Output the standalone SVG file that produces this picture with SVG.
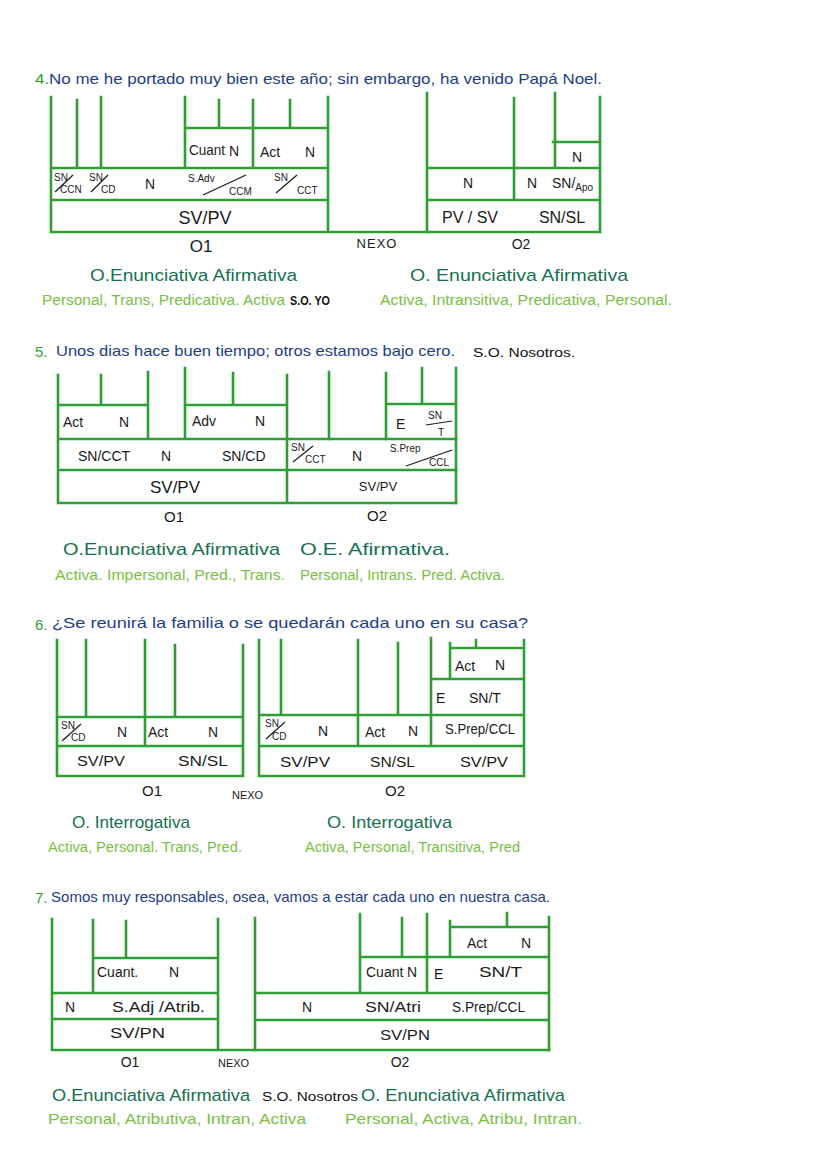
<svg xmlns="http://www.w3.org/2000/svg" width="828" height="1171" viewBox="0 0 828 1171">
<style>
.bg{fill:#ffffff}
.ln{stroke:#2e9f35;stroke-width:2.6;fill:none;stroke-linecap:square}
.fb{stroke:#1a1a1a;stroke-width:1.2;fill:none}
text{font-family:"Liberation Sans",Arial,sans-serif;fill:#1a1a1a}
.ti{fill:#1d3c8c;font-size:15px}
.num{fill:#2e9f35}
.lb{font-size:14px}
.sm{font-size:10px}
.dg{fill:#14704f;font-size:17px}
.lg{fill:#79c043;font-size:14px}
.so{fill:#111;font-size:13px}
.mid{text-anchor:middle}
</style>
<rect class="bg" x="0" y="0" width="828" height="1171"/>

<!-- ============ SENTENCE 4 ============ -->
<g id="s4">
  <g id="s4-title">
    <text class="ti" x="35" y="84" textLength="567" lengthAdjust="spacingAndGlyphs"><tspan class="num">4.</tspan>No me he portado muy bien este año; sin embargo, ha venido Papá Noel.</text>
  </g>
  <g id="s4-o1">
    <path class="ln" d="M51 97V232 M77 100V168 M101 97V168 M185 97V168 M219 100V128 M253 100V168 M290 100V128 M328 97V232 M185 128H328 M51 168H328 M51 200H328 M51 232H600"/>
    <text class="lb" x="189" y="155" font-size="12" textLength="36" lengthAdjust="spacingAndGlyphs">Cuant</text>
    <text class="lb" x="229" y="156" font-size="15">N</text>
    <text class="lb" x="260" y="157" font-size="15">Act</text>
    <text class="lb" x="305" y="157" font-size="15">N</text>
    <text class="sm" x="54" y="181">SN</text>
    <line class="fb" x1="55" y1="192" x2="73" y2="175"/>
    <text class="sm" x="60" y="193">CCN</text>
    <text class="sm" x="89" y="181">SN</text>
    <line class="fb" x1="91" y1="192" x2="108" y2="175"/>
    <text class="sm" x="101" y="193">CD</text>
    <text class="lb" x="145" y="189">N</text>
    <text class="sm" x="188" y="182" font-size="11">S.Adv</text>
    <line class="fb" x1="203" y1="195" x2="246" y2="175"/>
    <text class="sm" x="229" y="195" font-size="11">CCM</text>
    <text class="sm" x="274" y="181">SN</text>
    <line class="fb" x1="276" y1="193" x2="297" y2="175"/>
    <text class="sm" x="297" y="194" font-size="11">CCT</text>
    <text class="mid" x="205" y="224" font-size="18">SV/PV</text>
    <text class="mid" x="201" y="252" font-size="17">O1</text>
  </g>
  <g id="s4-nexo">
    <text class="mid" x="377" y="248" font-size="13" letter-spacing="1">NEXO</text>
  </g>
  <g id="s4-o2">
    <path class="ln" d="M427 93V232 M514 98V200 M555 93V168 M600 97V232 M553 142H600 M427 168H600 M427 200H600"/>
    <text class="lb mid" x="577" y="162">N</text>
    <text class="lb mid" x="468" y="188">N</text>
    <text class="lb mid" x="532" y="188">N</text>
    <text class="lb" x="552" y="188" font-size="13">SN/<tspan font-size="10" dy="3">Apo</tspan></text>
    <text class="mid" x="470" y="223" font-size="16">PV / SV</text>
    <text class="mid" x="562" y="223" font-size="16">SN/SL</text>
    <text class="mid" x="521" y="249" font-size="14">O2</text>
  </g>
  <g id="s4-notes">
    <text class="dg" x="90" y="281" textLength="207" lengthAdjust="spacingAndGlyphs">O.Enunciativa Afirmativa</text>
    <text class="lg" x="42" y="305" textLength="243" lengthAdjust="spacingAndGlyphs">Personal, Trans, Predicativa. Activa</text>
    <text class="so" x="290" y="305" font-size="11" font-weight="bold" textLength="40" lengthAdjust="spacingAndGlyphs">S.O. YO</text>
    <text class="dg" x="410" y="281" textLength="218" lengthAdjust="spacingAndGlyphs">O. Enunciativa Afirmativa</text>
    <text class="lg" x="380" y="305" textLength="292" lengthAdjust="spacingAndGlyphs">Activa, Intransitiva, Predicativa, Personal.</text>
  </g>
</g>

<!-- ============ SENTENCE 5 ============ -->
<g id="s5">
  <g id="s5-title">
    <text class="ti num" x="35" y="357" font-size="21">5.</text>
    <text class="ti" x="56" y="356" font-size="16" textLength="399" lengthAdjust="spacingAndGlyphs">Unos dias hace buen tiempo; otros estamos bajo cero.</text>
    <text class="so" x="473" y="357" font-size="14" textLength="102" lengthAdjust="spacingAndGlyphs">S.O. Nosotros.</text>
  </g>
  <g id="s5-o1">
    <path class="ln" d="M58 375V503 M101 375V405 M148 372V439 M185 368V439 M233 373V405 M287 375V503 M58 405H148 M185 405H287 M58 439H456 M58 470H456 M58 503H456"/>
    <text class="lb" x="63" y="427" font-size="15">Act</text>
    <text class="lb" x="119" y="427" font-size="15">N</text>
    <text class="lb" x="192" y="426" font-size="15">Adv</text>
    <text class="lb" x="255" y="426" font-size="15">N</text>
    <text class="lb" x="78" y="461" font-size="15">SN/CCT</text>
    <text class="lb" x="161" y="461" font-size="15">N</text>
    <text class="lb" x="222" y="461" font-size="15">SN/CD</text>
    <text class="mid" x="175" y="493" font-size="17">SV/PV</text>
    <text class="mid" x="174" y="522" font-size="15">O1</text>
  </g>
  <g id="s5-o2">
    <path class="ln" d="M329 372V439 M386 373V439 M422 368V404 M456 368V503 M386 404H456"/>
    <text class="lb" x="396" y="429" font-size="15">E</text>
    <text class="sm" x="428" y="419" font-size="11">SN</text>
    <line class="fb" x1="426" y1="425" x2="452" y2="421"/>
    <text class="sm" x="438" y="436">T</text>
    <text class="sm" x="291" y="451">SN</text>
    <line class="fb" x1="293" y1="462" x2="313" y2="446"/>
    <text class="sm" x="305" y="463">CCT</text>
    <text class="lb" x="352" y="461">N</text>
    <text class="sm" x="390" y="452" font-size="12">S.Prep</text>
    <line class="fb" x1="406" y1="466" x2="452" y2="450"/>
    <text class="sm" x="429" y="466">CCL</text>
    <text class="mid" x="378" y="491" font-size="13">SV/PV</text>
    <text class="mid" x="377" y="521" font-size="15">O2</text>
  </g>
  <g id="s5-notes">
    <text class="dg" x="63" y="555" textLength="217" lengthAdjust="spacingAndGlyphs">O.Enunciativa Afirmativa</text>
    <text class="dg" x="300" y="555" textLength="150" lengthAdjust="spacingAndGlyphs">O.E. Afirmativa.</text>
    <text class="lg" x="55" y="580" textLength="230" lengthAdjust="spacingAndGlyphs">Activa. Impersonal, Pred., Trans.</text>
    <text class="lg" x="300" y="580" textLength="205" lengthAdjust="spacingAndGlyphs">Personal, Intrans. Pred. Activa.</text>
  </g>
</g>

<!-- ============ SENTENCE 6 ============ -->
<g id="s6">
  <g id="s6-title">
    <text class="ti num" x="35" y="630" font-size="21">6.</text>
    <text class="ti" x="52" y="628" textLength="476" lengthAdjust="spacingAndGlyphs">¿Se reunirá la familia o se quedarán cada uno en su casa?</text>
  </g>
  <g id="s6-o1">
    <path class="ln" d="M57 640V776 M86 640V717 M145 640V746 M175 645V717 M243 645V776 M57 717H243 M57 746H243 M57 776H243"/>
    <text class="sm" x="61" y="729">SN</text>
    <line class="fb" x1="62" y1="741" x2="81" y2="724"/>
    <text class="sm" x="71" y="741">CD</text>
    <text class="lb" x="117" y="737">N</text>
    <text class="lb" x="148" y="737">Act</text>
    <text class="lb" x="208" y="737">N</text>
    <text class="lb" x="77" y="766" textLength="48" lengthAdjust="spacingAndGlyphs">SV/PV</text>
    <text class="lb" x="178" y="766" textLength="50" lengthAdjust="spacingAndGlyphs">SN/SL</text>
    <text class="mid" x="152" y="796" font-size="15">O1</text>
  </g>
  <g id="s6-nexo">
    <text x="232" y="799" font-size="11">NEXO</text>
  </g>
  <g id="s6-o2">
    <path class="ln" d="M259 640V776 M281 640V715 M358 640V746 M398 643V715 M431 638V746 M450 643V679 M476 640V648 M524 640V776 M450 648H524 M431 679H524 M259 715H524 M259 746H524 M259 776H524"/>
    <text class="lb" x="455" y="671">Act</text>
    <text class="lb" x="495" y="670">N</text>
    <text class="lb" x="436" y="703">E</text>
    <text class="lb" x="469" y="703">SN/T</text>
    <text class="sm" x="265" y="727">SN</text>
    <line class="fb" x1="266" y1="739" x2="285" y2="722"/>
    <text class="sm" x="272" y="740">CD</text>
    <text class="lb" x="318" y="736">N</text>
    <text class="lb" x="365" y="737">Act</text>
    <text class="lb" x="408" y="736">N</text>
    <text class="lb" x="445" y="734" textLength="70" lengthAdjust="spacingAndGlyphs">S.Prep/CCL</text>
    <text class="lb" x="280" y="767" textLength="50" lengthAdjust="spacingAndGlyphs">SV/PV</text>
    <text class="lb" x="370" y="767" textLength="45" lengthAdjust="spacingAndGlyphs">SN/SL</text>
    <text class="lb" x="460" y="767" textLength="48" lengthAdjust="spacingAndGlyphs">SV/PV</text>
    <text class="mid" x="395" y="796" font-size="15">O2</text>
  </g>
  <g id="s6-notes">
    <text class="dg" x="72" y="828" font-size="16" textLength="118" lengthAdjust="spacingAndGlyphs">O. Interrogativa</text>
    <text class="lg" x="48" y="852" textLength="194" lengthAdjust="spacingAndGlyphs">Activa, Personal. Trans, Pred.</text>
    <text class="dg" x="327" y="828" font-size="16" textLength="125" lengthAdjust="spacingAndGlyphs">O. Interrogativa</text>
    <text class="lg" x="305" y="852" textLength="215" lengthAdjust="spacingAndGlyphs">Activa, Personal, Transitiva, Pred</text>
  </g>
</g>

<!-- ============ SENTENCE 7 ============ -->
<g id="s7">
  <g id="s7-title">
    <text class="ti num" x="35" y="903" font-size="18">7.</text>
    <text class="ti" x="51" y="902" font-size="14" textLength="499" lengthAdjust="spacingAndGlyphs">Somos muy responsables, osea, vamos a estar cada uno en nuestra casa.</text>
  </g>
  <g id="s7-o1">
    <path class="ln" d="M52 919V1050 M93 920V993 M126 921V958 M218 919V1050 M93 958H218 M52 993H218 M52 1019H218 M52 1050H549"/>
    <text class="lb" x="97" y="977" font-size="13">Cuant.</text>
    <text class="lb" x="169" y="977">N</text>
    <text class="lb" x="65" y="1012">N</text>
    <text class="lb" x="112" y="1012" font-size="13" textLength="93" lengthAdjust="spacingAndGlyphs">S.Adj /Atrib.</text>
    <text class="lb" x="110" y="1038" textLength="55" lengthAdjust="spacingAndGlyphs">SV/PN</text>
    <text class="mid" x="130" y="1067" font-size="14">O1</text>
  </g>
  <g id="s7-nexo">
    <text x="218" y="1067" font-size="11">NEXO</text>
  </g>
  <g id="s7-o2">
    <path class="ln" d="M255 918V1050 M360 914V993 M402 918V957 M427 914V993 M450 921V957 M507 913V927 M549 917V1050 M450 927H549 M360 957H549 M255 993H549 M255 1020H549"/>
    <text class="lb" x="467" y="948">Act</text>
    <text class="lb" x="521" y="948">N</text>
    <text class="lb" x="366" y="977" font-size="12">Cuant</text>
    <text class="lb" x="407" y="977">N</text>
    <text class="lb" x="434" y="979">E</text>
    <text class="lb" x="479" y="977" textLength="43" lengthAdjust="spacingAndGlyphs">SN/T</text>
    <text class="lb" x="302" y="1012">N</text>
    <text class="lb" x="365" y="1012" font-size="13" textLength="56" lengthAdjust="spacingAndGlyphs">SN/Atri</text>
    <text class="lb" x="452" y="1012" font-size="13" textLength="73" lengthAdjust="spacingAndGlyphs">S.Prep/CCL</text>
    <text class="lb" x="380" y="1040" textLength="50" lengthAdjust="spacingAndGlyphs">SV/PN</text>
    <text class="mid" x="400" y="1067" font-size="14">O2</text>
  </g>
  <g id="s7-notes">
    <text class="dg" x="52" y="1101" textLength="198" lengthAdjust="spacingAndGlyphs">O.Enunciativa Afirmativa</text>
    <text class="so" x="262" y="1101" font-size="15" textLength="96" lengthAdjust="spacingAndGlyphs">S.O. Nosotros</text>
    <text class="dg" x="361" y="1101" textLength="204" lengthAdjust="spacingAndGlyphs">O. Enunciativa Afirmativa</text>
    <text class="lg" x="48" y="1124" font-size="15" textLength="258" lengthAdjust="spacingAndGlyphs">Personal, Atributiva, Intran, Activa</text>
    <text class="lg" x="345" y="1124" font-size="15" textLength="237" lengthAdjust="spacingAndGlyphs">Personal, Activa, Atribu, Intran.</text>
  </g>
</g>
</svg>
